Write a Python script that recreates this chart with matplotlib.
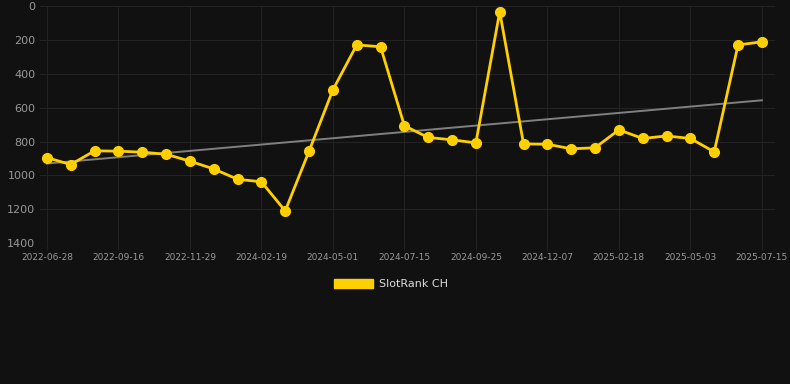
import numpy as np
import matplotlib
matplotlib.use("Agg")
import matplotlib.pyplot as plt
from matplotlib.patches import Patch

dates = ["2022-06-28", "", "", "2022-09-16", "", "", "2022-11-29", "", "", "2024-02-19", "", "",
         "2024-05-01", "", "", "2024-07-15", "", "", "2024-09-25", "", "", "2024-12-07", "", "",
         "2025-02-18", "", "", "2025-05-03", "", "", "2025-07-15"]
ranks = [895, 936, 855, 857, 863, 875, 916, 962, 1023, 1038, 1210, 857, 495, 229, 240,
         707, 776, 790, 808, 33, 814, 816, 843, 837, 731, 782, 767, 782, 861, 229, 211]
series_name = "SlotRank CH"

bg = "#111111"
gold = "#FFD000"

fig = plt.figure(figsize=(7.9, 3.84), dpi=100, facecolor=bg)
ax = fig.add_axes([0.05, 0.367, 0.931, 0.617], facecolor=bg)

x = np.arange(len(ranks))
y = np.array(ranks, dtype=float)

# trend line
k, b = np.polyfit(x, y, 1)
ax.plot(x, k * x + b, color="#808080", linewidth=1.4, zorder=2)

ax.plot(x, y, color=gold, linewidth=2.0, marker="o", markersize=7,
        markerfacecolor=gold, markeredgecolor=gold, zorder=3)

ax.set_ylim(1400, 0)
ax.set_xlim(-0.31, 30.55)
ax.set_yticks(np.arange(0, 1401, 200))
tick_pos = [i for i, d in enumerate(dates) if d]
ax.set_xticks(tick_pos)
ax.set_xticklabels([dates[i] for i in tick_pos])

ax.grid(True, color="#232323", linewidth=0.8)
ax.set_axisbelow(True)
for s in ax.spines.values():
    s.set_visible(False)
ax.tick_params(axis="y", colors="#999999", labelsize=8, length=0, pad=3)
ax.tick_params(axis="x", colors="#999999", labelsize=6.5, length=5, pad=2, color="#232323")

leg = fig.legend(handles=[Patch(facecolor=gold, edgecolor=gold, label=series_name)],
                 loc="center", bbox_to_anchor=(0.495, 0.26), frameon=False,
                 handlelength=3.5, handleheight=0.9, handletextpad=0.6, fontsize=8)
for t in leg.get_texts():
    t.set_color("#dddddd")

fig.savefig("out.png", dpi=100, facecolor=bg)
